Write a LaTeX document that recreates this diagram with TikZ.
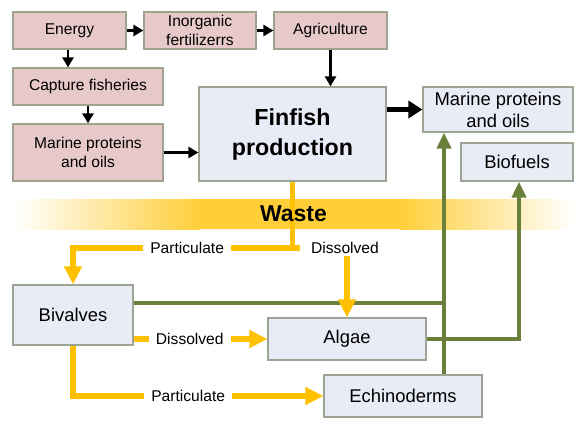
\documentclass[tikz,border=0pt]{standalone}
\usepackage{fontspec}
\setmainfont{Liberation Sans}
\usetikzlibrary{arrows.meta,calc}
\definecolor{pinkfill}{HTML}{E8C9C9}
\definecolor{pinkdraw}{HTML}{9DA38E}
\definecolor{bluefill}{HTML}{E9ECF6}
\definecolor{bluedraw}{HTML}{9AA592}
\definecolor{wy}{HTML}{FFC000}
\definecolor{gg}{HTML}{6A7F3A}
\colorlet{bandc}{wy!78}
\begin{document}
\begin{tikzpicture}[x=1pt,y=-1pt,
  box/.style={draw, line width=1.2pt, inner sep=0pt, align=center},
  pinkbox/.style={box, fill=pinkfill, draw=pinkdraw, font=\fontsize{15.6}{18.5}\selectfont},
  bluebox/.style={box, fill=bluefill, draw=bluedraw, font=\fontsize{18.4}{22}\selectfont},
  blk/.style={line width=2.4pt, -{Triangle[length=10pt,width=11pt]}},
  blkthick/.style={line width=5pt, -{Triangle[length=14pt,width=17pt]}},
  yel/.style={draw=wy, line width=5.5pt},
  yarr/.style={yel, -{Triangle[length=18pt,width=17pt]}},
  grn/.style={draw=gg, line width=4pt},
  garr/.style={grn, -{Triangle[length=16pt,width=14pt]}},
  lbl/.style={fill=white, inner xsep=7pt, inner ysep=2pt, font=\fontsize{15.6}{18}\selectfont, text=black}
]
\useasboundingbox (0,0) rectangle (585,431);
% waste band
\shade[left color=white, right color=bandc] (15,199) rectangle (200.5,229);
\fill[bandc] (200,199) rectangle (400,229);
\shade[left color=bandc, right color=white] (399.5,199) rectangle (574,229);

% nodes
\node[pinkbox, minimum width=113pt, minimum height=37pt] (energy) at (69.5,30.5) {Energy};
\node[pinkbox, minimum width=112pt, minimum height=37pt] (inorg) at (200,30.5) {Inorganic\\fertilizerrs};
\node[pinkbox, minimum width=113pt, minimum height=37pt] (agri) at (330.5,30.5) {Agriculture};
\node[pinkbox, minimum width=150pt, minimum height=37pt] (capture) at (88,86.5) {Capture fisheries};
\node[pinkbox, minimum width=150pt, minimum height=57pt] (marineL) at (88,152.5) {Marine proteins\\and oils};
\node[bluebox, minimum width=187pt, minimum height=94pt, font=\bfseries\fontsize{23.2}{30}\selectfont] (finfish) at (292.5,134) {Finfish\\production};
\node[bluebox, minimum width=150pt, minimum height=45pt] (marineR) at (498,109.5) {Marine proteins\\and oils};
\node[bluebox, minimum width=112pt, minimum height=38pt] (biofuels) at (517,162) {Biofuels};
\node[bluebox, minimum width=120pt, minimum height=60pt] (bivalves) at (73,315) {Bivalves};
\node[bluebox, minimum width=158pt, minimum height=42pt] (algae) at (347,339) {Algae};
\node[bluebox, minimum width=158pt, minimum height=42pt] (echino) at (403,396) {Echinoderms};

% black arrows
\draw[blk] (energy.east) -- (inorg.west);
\draw[blk] (inorg.east) -- (agri.west);
\draw[blk] ([xshift=-1.5pt]energy.south) -- ([xshift=-1.5pt]energy.south |- capture.north);
\draw[blk] (capture.south) -- (marineL.north);
\draw[blk] (agri.south) -- (agri.south |- finfish.north);
\draw[blk] (marineL.east) -- (marineL.east -| finfish.west);
\draw[blkthick] (marineR.west -| finfish.east) -- (marineR.west);

% green flows
\coordinate (g1) at (444,303);
\draw[grn] (bivalves.east |- g1) -- (g1);
\draw[garr] (echino.north -| g1) -- (g1 |- marineR.south);
\draw[garr] (algae.east) -| ([xshift=2pt]biofuels.south);
\fill[gg] (g1 |- algae.east) circle (3.2pt);

% yellow waste flows
\coordinate (j1) at (292.5,248);
\coordinate (stub) at (300,248);
\draw[yel] (finfish.south) -- (j1);
\node[font=\bfseries\fontsize{23}{27}\selectfont] (waste) at (293.5,214) {Waste};
\draw[yarr] (j1) -| node[lbl, pos=0.24] {Particulate} (bivalves.north);
\draw[yel] (j1) -- (stub);
\node[lbl, fill=none] (dis) at (345,248) {Dissolved};
\draw[yarr] (dis.south -| algae.north) -- (algae.north);
\draw[yarr] (bivalves.east |- algae.west) -- node[lbl, pos=0.42] {Dissolved} (algae.west);
\draw[yarr] (bivalves.south) |- node[lbl, pos=0.73] {Particulate} (echino.west);
\end{tikzpicture}
\end{document}
